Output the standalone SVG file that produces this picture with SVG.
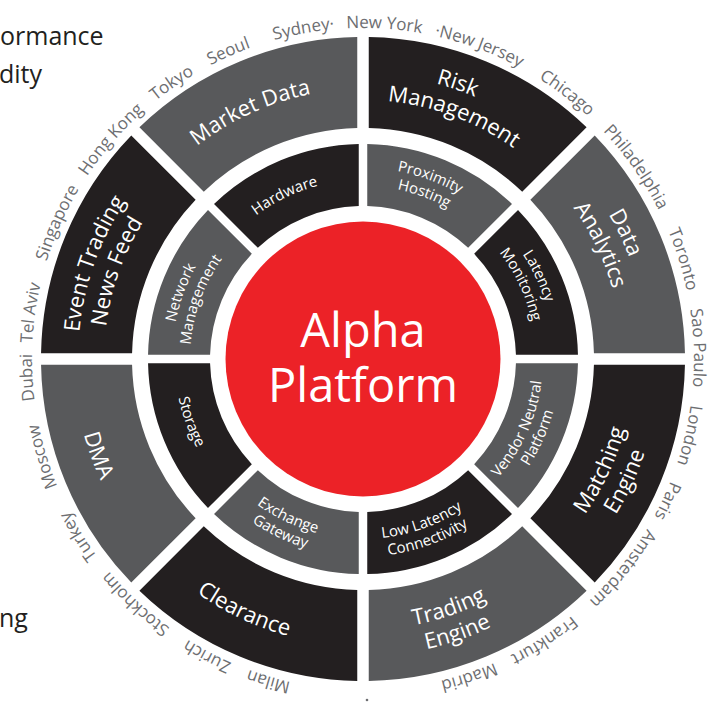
<svg xmlns="http://www.w3.org/2000/svg" xmlns:xlink="http://www.w3.org/1999/xlink" width="720" height="702" viewBox="0 0 720 702">
<style>
text{font-family:"Open Sans","Noto Sans","DejaVu Sans",sans-serif}
.dark{fill:#231f20}
.gray{fill:#58595b}
.lbl{font-size:22px;fill:#ffffff}
.ilbl{font-size:15px;fill:#ffffff}
.city{font-size:17px;fill:#6d6e71}
.side{font-size:25px;fill:#231f20}
.core{font-size:47px;fill:#ffffff}
</style>
<defs>
<path id="oseg" d="M5.75,-321.95 A322,322 0 0 1 223.59,-231.72 L159.23,-167.36 A231,231 0 0 0 5.75,-230.93 Z"/>
<path id="iseg" d="M4.25,-214.96 A215,215 0 0 1 148.99,-155 L105.14,-111.15 A153,153 0 0 0 4.25,-152.94 Z"/>
<path id="cw270" d="M-173.55,-206.83 A270,270 0 0 1 173.55,-206.83"/>
<path id="cw285" d="M-183.19,-218.32 A285,285 0 0 1 183.19,-218.32"/>
<path id="cw259" d="M-166.48,-198.41 A259,259 0 0 1 166.48,-198.41"/>
<path id="ccw271" d="M-174.2,207.6 A271,271 0 0 0 174.2,207.6"/>
<path id="ccw297" d="M-190.91,227.52 A297,297 0 0 0 190.91,227.52"/>
<path id="ccw287" d="M-184.48,219.85 A287,287 0 0 0 184.48,219.85"/>
<path id="ccw289" d="M-185.77,221.39 A289,289 0 0 0 185.77,221.39"/>
<path id="cw179" d="M-115.06,-137.12 A179,179 0 0 1 115.06,-137.12"/>
<path id="cw191" d="M-122.77,-146.31 A191,191 0 0 1 122.77,-146.31"/>
<path id="cw173" d="M-111.2,-132.53 A173,173 0 0 1 111.2,-132.53"/>
<path id="ccw180" d="M-115.7,137.89 A180,180 0 0 0 115.7,137.89"/>
<path id="ccw197" d="M-126.95,151.29 A197.5,197.5 0 0 0 126.95,151.29"/>
<path id="ccw188" d="M-121.17,144.4 A188.5,188.5 0 0 0 121.17,144.4"/>
<path id="cityring" d="M363,690 A331,331 0 1 1 363,28 A331,331 0 1 1 363,690"/>
</defs>

<g id="side-texts">
<text class="side" x="0" y="45">ormance</text>
<text class="side" x="-1" y="83">dity</text>
<text class="side" x="-1" y="627">ng</text>
</g>

<g id="outer-ring">
<g id="risk-management" transform="translate(363,359)">
<use xlink:href="#oseg" class="dark"/>
<g transform="rotate(19)"><text class="lbl" text-anchor="middle"><textPath xlink:href="#cw285" startOffset="50%">Risk</textPath></text></g>
<g transform="rotate(20.5)"><text class="lbl" text-anchor="middle"><textPath xlink:href="#cw259" startOffset="50%">Management</textPath></text></g>
</g>
<g id="data-analytics" transform="translate(363,359)">
<use xlink:href="#oseg" class="gray" transform="rotate(45)"/>
<g transform="rotate(64.3)"><text class="lbl" text-anchor="middle"><textPath xlink:href="#cw285" startOffset="50%">Data</textPath></text><text class="lbl" text-anchor="middle"><textPath xlink:href="#cw259" startOffset="50%">Analytics</textPath></text></g>
</g>
<g id="matching-engine" transform="translate(363,359)">
<use xlink:href="#oseg" class="dark" transform="rotate(90)"/>
<g transform="rotate(-65)"><text class="lbl" text-anchor="middle"><textPath xlink:href="#ccw271" startOffset="50%">Matching</textPath></text><text class="lbl" text-anchor="middle"><textPath xlink:href="#ccw297" startOffset="50%">Engine</textPath></text></g>
</g>
<g id="trading-engine" transform="translate(363,359)">
<use xlink:href="#oseg" class="gray" transform="rotate(135)"/>
<g transform="rotate(-19)"><text class="lbl" text-anchor="middle"><textPath xlink:href="#ccw271" startOffset="50%">Trading</textPath></text><text class="lbl" text-anchor="middle"><textPath xlink:href="#ccw297" startOffset="50%">Engine</textPath></text></g>
</g>
<g id="clearance" transform="translate(363,359)">
<use xlink:href="#oseg" class="dark" transform="rotate(180)"/>
<g transform="rotate(25.3)"><text class="lbl" text-anchor="middle"><textPath xlink:href="#ccw287" startOffset="50%">Clearance</textPath></text></g>
</g>
<g id="dma" transform="translate(363,359)">
<use xlink:href="#oseg" class="gray" transform="rotate(225)"/>
<g transform="rotate(70)"><text class="lbl" text-anchor="middle"><textPath xlink:href="#ccw289" startOffset="50%">DMA</textPath></text></g>
</g>
<g id="event-trading-news-feed" transform="translate(363,359)">
<use xlink:href="#oseg" class="dark" transform="rotate(270)"/>
<g transform="rotate(289.5)"><text class="lbl" text-anchor="middle"><textPath xlink:href="#cw285" startOffset="50%">Event Trading</textPath></text><text class="lbl" text-anchor="middle"><textPath xlink:href="#cw259" startOffset="50%">News Feed</textPath></text></g>
</g>
<g id="market-data" transform="translate(363,359)">
<use xlink:href="#oseg" class="gray" transform="rotate(315)"/>
<g transform="rotate(335.5)"><text class="lbl" text-anchor="middle"><textPath xlink:href="#cw270" startOffset="50%">Market Data</textPath></text></g>
</g>
</g>

<g id="inner-ring">
<g id="proximity-hosting" transform="translate(363,359)">
<use xlink:href="#iseg" class="gray"/>
<g transform="rotate(20.3)"><text class="ilbl" text-anchor="middle"><textPath xlink:href="#cw191" startOffset="50%">Proximity</textPath></text><text class="ilbl" text-anchor="middle"><textPath xlink:href="#cw173" startOffset="50%">Hosting</textPath></text></g>
</g>
<g id="latency-monitoring" transform="translate(363,359)">
<use xlink:href="#iseg" class="dark" transform="rotate(45)"/>
<g transform="rotate(64.7)"><text class="ilbl" text-anchor="middle"><textPath xlink:href="#cw191" startOffset="50%">Latency</textPath></text><text class="ilbl" text-anchor="middle"><textPath xlink:href="#cw173" startOffset="50%">Monitoring</textPath></text></g>
</g>
<g id="vendor-neutral-platform" transform="translate(363,359)">
<use xlink:href="#iseg" class="gray" transform="rotate(90)"/>
<g transform="rotate(-65.8)"><text class="ilbl" text-anchor="middle"><textPath xlink:href="#ccw180" startOffset="50%">Vendor Neutral</textPath></text><text class="ilbl" text-anchor="middle"><textPath xlink:href="#ccw197" startOffset="50%">Platform</textPath></text></g>
</g>
<g id="low-latency-connectivity" transform="translate(363,359)">
<use xlink:href="#iseg" class="dark" transform="rotate(135)"/>
<g transform="rotate(-19.8)"><text class="ilbl" text-anchor="middle"><textPath xlink:href="#ccw180" startOffset="50%">Low Latency</textPath></text><text class="ilbl" text-anchor="middle"><textPath xlink:href="#ccw197" startOffset="50%">Connectivity</textPath></text></g>
</g>
<g id="exchange-gateway" transform="translate(363,359)">
<use xlink:href="#iseg" class="gray" transform="rotate(180)"/>
<g transform="rotate(25.5)"><text class="ilbl" text-anchor="middle"><textPath xlink:href="#ccw180" startOffset="50%">Exchange</textPath></text><text class="ilbl" text-anchor="middle"><textPath xlink:href="#ccw197" startOffset="50%">Gateway</textPath></text></g>
</g>
<g id="storage" transform="translate(363,359)">
<use xlink:href="#iseg" class="dark" transform="rotate(225)"/>
<g transform="rotate(70)"><text class="ilbl" text-anchor="middle"><textPath xlink:href="#ccw188" startOffset="50%">Storage</textPath></text></g>
</g>
<g id="network-management" transform="translate(363,359)">
<use xlink:href="#iseg" class="gray" transform="rotate(270)"/>
<g transform="rotate(290)"><text class="ilbl" text-anchor="middle"><textPath xlink:href="#cw191" startOffset="50%">Network</textPath></text><text class="ilbl" text-anchor="middle"><textPath xlink:href="#cw173" startOffset="50%">Management</textPath></text></g>
</g>
<g id="hardware" transform="translate(363,359)">
<use xlink:href="#iseg" class="dark" transform="rotate(315)"/>
<g transform="rotate(334.4)"><text class="ilbl" text-anchor="middle"><textPath xlink:href="#cw179" startOffset="50%">Hardware</textPath></text></g>
</g>
</g>

<g id="alpha-platform">
<circle cx="363" cy="359" r="137.5" fill="#ec2227"/>
<text class="core" text-anchor="middle"><tspan x="363" y="347">Alpha</tspan><tspan x="363" y="402">Platform</tspan></text>
</g>

<g id="cities">
<text class="city" text-anchor="middle"><textPath xlink:href="#cityring" startOffset="94.7">Milan</textPath></text>
<text class="city" text-anchor="middle"><textPath xlink:href="#cityring" startOffset="160">Zurich</textPath></text>
<text class="city" text-anchor="middle"><textPath xlink:href="#cityring" startOffset="247.8">Stockholm</textPath></text>
<text class="city" text-anchor="middle"><textPath xlink:href="#cityring" startOffset="335.1">Turkey</textPath></text>
<text class="city" text-anchor="middle"><textPath xlink:href="#cityring" startOffset="421.7">Moscow</textPath></text>
<text class="city" text-anchor="middle"><textPath xlink:href="#cityring" startOffset="501.4">Dubai</textPath></text>
<text class="city" text-anchor="middle"><textPath xlink:href="#cityring" startOffset="565.6">Tel Aviv</textPath></text>
<text class="city" text-anchor="middle"><textPath xlink:href="#cityring" startOffset="658.6">Singapore</textPath></text>
<text class="city" text-anchor="middle"><textPath xlink:href="#cityring" startOffset="756.8">Hong Kong</textPath></text>
<text class="city" text-anchor="middle"><textPath xlink:href="#cityring" startOffset="838.9">Tokyo</textPath></text>
<text class="city" text-anchor="middle"><textPath xlink:href="#cityring" startOffset="902.9">Seoul</textPath></text>
<text class="city" text-anchor="middle"><textPath xlink:href="#cityring" startOffset="980.3">Sydney·</textPath></text>
<text class="city" text-anchor="middle"><textPath xlink:href="#cityring" startOffset="1060.6">New York</textPath></text>
<text class="city" text-anchor="middle"><textPath xlink:href="#cityring" startOffset="1157.1">·New Jersey</textPath></text>
<text class="city" text-anchor="middle"><textPath xlink:href="#cityring" startOffset="1255.9">Chicago</textPath></text>
<text class="city" text-anchor="middle"><textPath xlink:href="#cityring" startOffset="1356.4">Philadelphia</textPath></text>
<text class="city" text-anchor="middle"><textPath xlink:href="#cityring" startOffset="1459.2">Toronto</textPath></text>
<text class="city" text-anchor="middle"><textPath xlink:href="#cityring" startOffset="1548.2">Sao Paulo</textPath></text>
<text class="city" text-anchor="middle"><textPath xlink:href="#cityring" startOffset="1635.4">London</textPath></text>
<text class="city" text-anchor="middle"><textPath xlink:href="#cityring" startOffset="1703.6">Paris</textPath></text>
<text class="city" text-anchor="middle"><textPath xlink:href="#cityring" startOffset="1783.9">Amsterdam</textPath></text>
<text class="city" text-anchor="middle"><textPath xlink:href="#cityring" startOffset="1889.6">Frankfurt</textPath></text>
<text class="city" text-anchor="middle"><textPath xlink:href="#cityring" startOffset="1972.2">Madrid</textPath></text>
<circle cx="367" cy="700" r="1.3" fill="#6d6e71"/>
</g>

<g id="connectors"/>
</svg>
